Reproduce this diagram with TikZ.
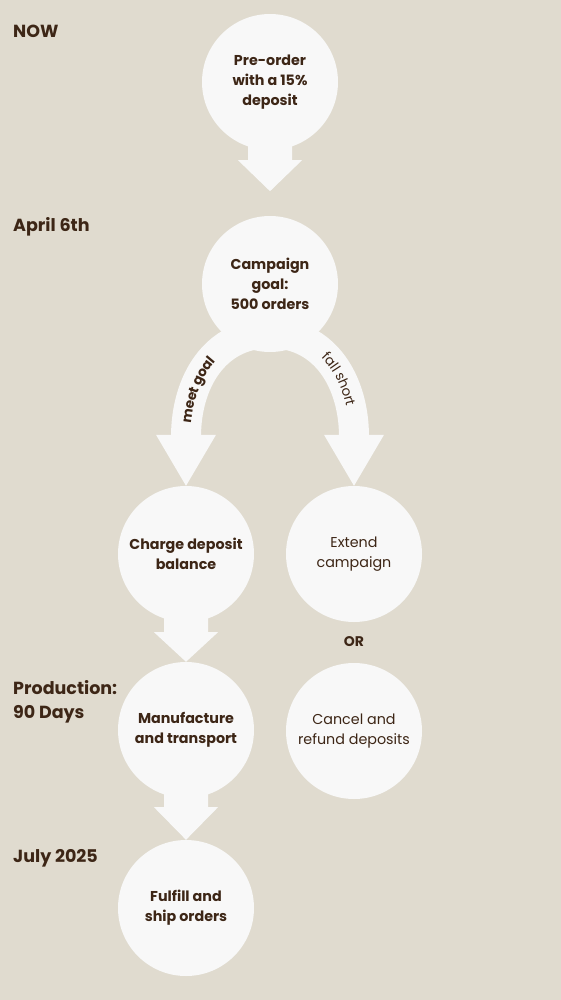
\documentclass[tikz,border=0pt]{standalone}
\usepackage{fontspec}
\setmainfont{Poppins}
\usetikzlibrary{calc,backgrounds,decorations.text}
\definecolor{sand}{RGB}{224,219,207}
\definecolor{bubble}{RGB}{248,248,248}
\definecolor{ink}{RGB}{61,38,22}
\begin{document}
\begin{tikzpicture}[x=1pt,y=-1pt,
  stage/.style={circle,fill=bubble,minimum size=136pt,inner sep=0pt,align=center,text=ink,font=\fontsize{14.3}{20}\selectfont\bfseries},
  light/.style={font=\fontsize{14.3}{20}\selectfont},
  when/.style={anchor=west,text=ink,inner sep=0pt,align=left,font=\fontsize{17.5}{24}\selectfont\bfseries},
  band/.style={draw=bubble,line width=30pt},
  fat/.style={fill=bubble}]
\useasboundingbox (0,0) rectangle (560,1000);
% time line on the left
\node[when] (now) at (13,31) {NOW};
\node[when] (april) at (13,227) {April 6th};
\node[when] (prod) at (13,702) {Production:\\90 Days};
\node[when] (july) at (13,858) {July 2025};
% stages
\node[stage] (pre) at (270,82) {Pre-order\\with a 15\%\\deposit};
\node[stage] (camp) at (270,284) {Campaign\\goal:\\500 orders};
\node[stage] (charge) at (186,554) {Charge deposit\\balance};
\node[stage,light] (extend) at (354,554) {Extend\\campaign};
\node[text=ink,font=\fontsize{14}{20}\selectfont\bfseries] (or) at (354,642) {OR};
\node[stage] (manuf) at (186,730) {Manufacture\\and transport};
\node[stage,light] (cancel) at (354,731) {Cancel and\\refund deposits};
\node[stage] (ship) at (186,908) {Fulfill and\\ship orders};
\begin{scope}[on background layer]
\fill[sand] (-3,-3) rectangle (563,1003);
% straight arrows
\fill[fat] ($(pre.south)+(-22,-25)$)--++(0,35)--++(-10,0)--($(pre.south)+(0,41)$)--($(pre.south)+(32,10)$)--++(-10,0)--++(0,-35)--cycle;
\fill[fat] ($(charge.south)+(-22,-25)$)--++(0,35)--++(-10,0)--(manuf.north)--($(charge.south)+(32,10)$)--++(-10,0)--++(0,-35)--cycle;
\fill[fat] ($(manuf.south)+(-22,-25)$)--++(0,34)--++(-10,0)--(ship.north)--($(manuf.south)+(32,9)$)--++(-10,0)--++(0,-34)--cycle;
% the two ways out of the campaign
\draw[band] ($(charge.north)+(0,-49)$) .. controls ($(charge.north)+(0,-104)$) and ($(camp.south)+(-55,-19)$) .. ($(camp.south)+(0,-19)$);
\draw[band] ($(extend.north)+(0,-49)$) .. controls ($(extend.north)+(0,-104)$) and ($(camp.south)+(55,-19)$) .. ($(camp.south)+(0,-19)$);
\fill[fat] ($(charge.north)+(-30,-51)$)--($(charge.north)+(30,-51)$)--(charge.north)--cycle;
\fill[fat] ($(extend.north)+(-30,-51)$)--($(extend.north)+(30,-51)$)--(extend.north)--cycle;
\end{scope}
\path[decorate,decoration={text along path,text color=ink,raise=-4.5pt,text align={left indent=14pt},
  text={|\fontsize{13.5}{16}\selectfont\bfseries|meet{\ }goal}}]
  ($(charge.north)+(0,-49)$) .. controls ($(charge.north)+(0,-104)$) and ($(camp.south)+(-55,-19)$) .. ($(camp.south)+(0,-19)$);
\path[decorate,decoration={text along path,text color=ink,raise=-4.5pt,text align={left indent=60pt},
  text={|\fontsize{13.5}{16}\selectfont|fall{\ }short}}]
  ($(camp.south)+(0,-19)$) .. controls ($(camp.south)+(55,-19)$) and ($(extend.north)+(0,-104)$) .. ($(extend.north)+(0,-49)$);
\end{tikzpicture}
\end{document}
